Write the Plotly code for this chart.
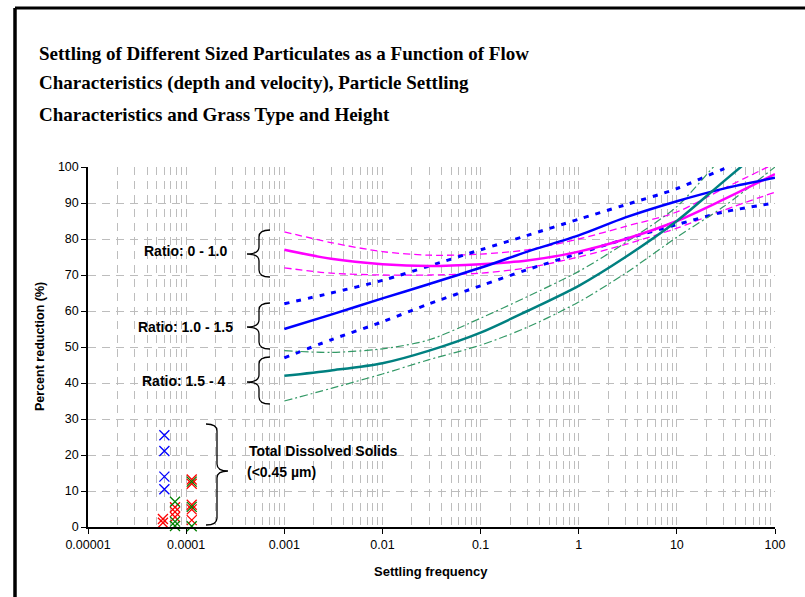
import plotly.graph_objects as go

# ---------------- data ----------------
x_fit = [0.001, 0.003, 0.01, 0.03, 0.1, 0.3, 1, 3, 10, 30, 100]

# Ratio 0 - 1.0 (magenta)
mag_mid = [77, 74.5, 73, 72.5, 73, 74, 76.5, 80, 85, 91, 98]
mag_hi = [82, 79, 76.5, 75.5, 75.8, 77, 80, 83.5, 87.5, 94, 101]
mag_lo = [72, 70.5, 70, 70, 70.5, 72, 75, 78.5, 83, 88, 93]

# Ratio 1.0 - 1.5 (blue)
blu_mid = [55, 59, 63.5, 67.5, 72, 76.5, 81, 86, 90.5, 94, 97]
blu_hi = [62, 65, 68.5, 72.5, 77, 81, 85.5, 89.5, 94, 99.5, 105]
blu_lo = [47, 52, 57, 62, 67, 71.5, 76, 80, 84, 87.5, 90]

# Ratio 1.5 - 4 (teal / green)
tea_mid = [42, 43.5, 45.5, 49, 54, 60, 67, 75, 85, 96, 108]
grn_hi = [49, 48.5, 49.5, 52, 58, 64, 71, 79, 89, 103, 115]
grn_lo = [35, 38.5, 42.5, 46.5, 50.5, 55.5, 62.5, 70.5, 80.5, 89, 100]

# Total dissolved solids
tds_blue_x = [6.0e-5, 6.0e-5, 6.0e-5, 6.0e-5]
tds_blue_y = [25.5, 21.1, 14.0, 10.5]
tds_red_x = [5.8e-5, 5.8e-5, 7.7e-5, 7.7e-5, 7.7e-5, 1.14e-4, 1.14e-4, 1.14e-4, 1.14e-4, 1.14e-4]
tds_red_y = [2.2, 1.2, 5.5, 4.2, 2.8, 13.2, 12.0, 6.2, 4.9, 1.9]
tds_grn_x = [7.7e-5, 7.7e-5, 7.7e-5, 1.14e-4, 1.14e-4, 1.14e-4]
tds_grn_y = [7.0, 1.5, 0.3, 12.6, 5.6, 0.2]

x_ticks = [0.00001, 0.0001, 0.001, 0.01, 0.1, 1, 10, 100]
x_tick_text = ["0.00001", "0.0001", "0.001", "0.01", "0.1", "1", "10", "100"]
y_ticks = list(range(0, 101, 10))

title_lines = [
    "Settling of Different Sized Particulates as a Function of Flow",
    "Characteristics (depth and velocity), Particle Settling",
    "Characteristics and Grass Type and Height",
]

# ---------------- figure ----------------
W, H = 805, 597
L, R, T, B = 88, 30, 167, 70
PW, PH = W - L - R, H - T - B


def pp(px, py):
    return (px - L) / PW, (H - B - py) / PH


fig = go.Figure()

MAG = "#FF00FF"
BLU = "#0000FF"
TEA = "#008080"
GRN = "#339966"


def line(y, color, width, dash):
    fig.add_trace(go.Scatter(x=x_fit, y=y, mode="lines",
                             line=dict(color=color, width=width, dash=dash, shape="spline", smoothing=0.8),
                             showlegend=False, hoverinfo="skip"))


line(mag_hi, MAG, 1.3, "7px,4px")
line(mag_lo, MAG, 1.3, "7px,4px")
line(blu_hi, BLU, 3, "5px,7px")
line(blu_lo, BLU, 3, "5px,7px")
line(grn_hi, GRN, 1.2, "8px,3px,2px,3px")
line(grn_lo, GRN, 1.2, "8px,3px,2px,3px")
line(mag_mid, MAG, 2.5, "solid")
line(blu_mid, BLU, 2.5, "solid")
line(tea_mid, TEA, 2.5, "solid")


def marks(x, y, color):
    fig.add_trace(go.Scatter(x=x, y=y, mode="markers", cliponaxis=False,
                             marker=dict(symbol="x-thin", size=10, color=color,
                                         line=dict(color=color, width=1.3)),
                             showlegend=False, hoverinfo="skip"))


marks(tds_blue_x, tds_blue_y, "#0000FF")
marks(tds_red_x, tds_red_y, "#FF0000")
marks(tds_grn_x, tds_grn_y, "#008000")

GRID = "#BDBDBD"
fig.update_xaxes(type="log", range=[-5, 2], tickvals=x_ticks, ticktext=x_tick_text,
                 showline=True, linecolor="black", linewidth=1.5, mirror=False,
                 ticks="outside", ticklen=5, tickcolor="black",
                 showgrid=True, gridcolor=GRID, griddash="8px,6px", gridwidth=1,
                 minor=dict(dtick="D1", showgrid=True, gridcolor=GRID, griddash="8px,6px",
                            gridwidth=1, ticks=""),
                 tickfont=dict(family="Liberation Sans", size=12.5, color="black"),
                 zeroline=False)
fig.update_yaxes(range=[0, 100], tickvals=y_ticks,
                 showline=True, linecolor="black", linewidth=1.5,
                 ticks="outside", ticklen=5, tickcolor="black",
                 showgrid=True, gridcolor=GRID, griddash="8px,6px", gridwidth=1,
                 tickfont=dict(family="Liberation Sans", size=12.5, color="black"),
                 zeroline=False)

annotations = []
# title lines
for i, (txt, py) in enumerate(zip(title_lines, [53, 83, 114])):
    x, y = pp(37, py)
    annotations.append(dict(x=x, y=y, xref="paper", yref="paper", text=txt, showarrow=False,
                            xanchor="left", yanchor="middle",
                            font=dict(family="Liberation Serif", size=19, color="black", weight="bold")))

# axis titles
x, y = pp(40, 347)
annotations.append(dict(x=x, y=y, xref="paper", yref="paper", text="Percent reduction (%)",
                        textangle=-90, showarrow=False, xanchor="center", yanchor="middle",
                        font=dict(family="Liberation Sans", size=12.5, color="black", weight="bold")))
x, y = pp(431, 571)
annotations.append(dict(x=x, y=y, xref="paper", yref="paper", text="Settling frequency",
                        showarrow=False, xanchor="center", yanchor="middle",
                        font=dict(family="Liberation Sans", size=13, color="black", weight="bold")))

# ratio labels
for txt, cx, cy in [("Ratio: 0 - 1.0", 185, 251), ("Ratio: 1.0 - 1.5", 185, 327), ("Ratio: 1.5 - 4", 183, 381)]:
    x, y = pp(cx, cy)
    annotations.append(dict(x=x, y=y, xref="paper", yref="paper", text=txt, showarrow=False,
                            xanchor="center", yanchor="middle",
                            font=dict(family="Liberation Sans", size=14, color="black", weight="bold")))
for txt, lx, cy in [("Total Dissolved Solids", 247, 451), ("(<0.45 µm)", 245, 472)]:
    x, y = pp(lx, cy)
    annotations.append(dict(x=x, y=y, xref="paper", yref="paper", text=txt, showarrow=False,
                            xanchor="left", yanchor="middle",
                            font=dict(family="Liberation Sans", size=14, color="black", weight="bold")))


def brace(xe, xs, xt, yt, yb, ym):
    r = min(7, (ym - yt) / 3)
    pts = [("M", xe, yt), ("Q", xs, yt), ("", xs, yt + r), ("L", xs, ym - r), ("Q", xs, ym), ("", xt, ym),
           ("Q", xs, ym), ("", xs, ym + r), ("L", xs, yb - r), ("Q", xs, yb), ("", xe, yb)]
    s = ""
    for cmd, px, py in pts:
        a, b = pp(px, py)
        s += (cmd + " " if cmd else "") + f"{a:.5f},{b:.5f} "
    return dict(type="path", path=s.strip(), xref="paper", yref="paper",
                line=dict(color="black", width=1.3))


shapes = [
    brace(270, 259, 247, 230, 277, 254),
    brace(270, 259, 247, 303, 349, 327),
    brace(270, 259, 247, 357, 404, 382),
    brace(206, 217, 228, 424, 525, 471),
]

# outer frame
x0, y0 = pp(15, 8)
x1, y1 = pp(W + 20, H + 20)
shapes.append(dict(type="line", xref="paper", yref="paper", x0=x0, y0=y0, x1=x1, y1=y0,
                   line=dict(color="black", width=3)))
shapes.append(dict(type="line", xref="paper", yref="paper", x0=x0, y0=y0, x1=x0, y1=y1,
                   line=dict(color="black", width=3.5)))

fig.update_layout(width=W, height=H, margin=dict(l=L, r=R, t=T, b=B),
                  paper_bgcolor="white", plot_bgcolor="white",
                  annotations=annotations, shapes=shapes, showlegend=False)

fig.write_html("out.html")
